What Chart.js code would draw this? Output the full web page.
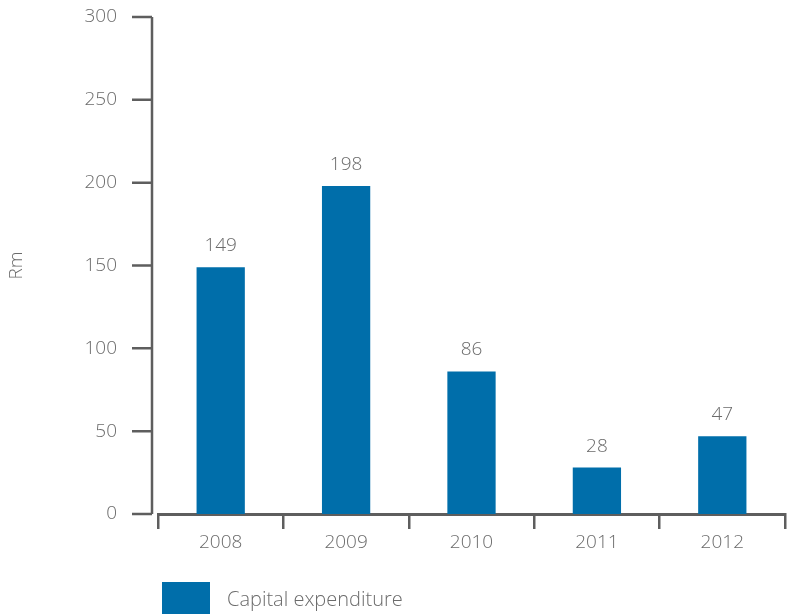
<!DOCTYPE html>
<html>
<head>
<meta charset="utf-8">
<script src="https://cdn.jsdelivr.net/npm/chart.js@4/dist/chart.umd.min.js"></script>
<style>
  html, body { margin: 0; padding: 0; background: #fff; }
  #wrap { position: relative; width: 787px; height: 615px; }
  #chart { display: block; }
  #legend { position: absolute; left: 162px; top: 582px; display: flex; align-items: center;
            font-family: "Open Sans", sans-serif; font-weight: 300; font-size: 20px; color: #6b6b6b; }
  #legend .swatch { width: 48px; height: 32px; margin-right: 17px; }
</style>
</head>
<body>
<div id="wrap">
  <canvas id="chart" width="787" height="615"></canvas>
  <div id="legend"><span class="swatch"></span><span class="label"></span></div>
</div>
<script>
const years = ['2008', '2009', '2010', '2011', '2012'];
const capex = [149, 198, 86, 28, 47];
const yTicks = [0, 50, 100, 150, 200, 250, 300];
const seriesName = 'Capital expenditure';
const axisTitle = 'Rm';

const BAR = '#006eaa';
const AXIS = '#5e5e5e';
const TEXT = '#6b6b6b';
const FONT = { family: '"Open Sans", sans-serif', size: 19, weight: 300 };

// Vertical axis line and its outward tick marks, set slightly left of the plot
const yAxisLine = {
  id: 'yAxisLine',
  afterDraw(chart) {
    const y = chart.scales.y;
    const x = chart.chartArea.left - 6;
    const ctx = chart.ctx;
    ctx.save();
    ctx.strokeStyle = AXIS;
    ctx.lineWidth = 2.5;
    ctx.beginPath();
    ctx.moveTo(x, y.getPixelForValue(yTicks[yTicks.length - 1]));
    ctx.lineTo(x, y.getPixelForValue(yTicks[0]));
    yTicks.forEach(v => {
      const py = y.getPixelForValue(v);
      ctx.moveTo(x - 20, py);
      ctx.lineTo(x, py);
    });
    ctx.stroke();
    ctx.restore();
  }
};

// Value labels above each bar
const valueLabels = {
  id: 'valueLabels',
  afterDatasetsDraw(chart) {
    const ctx = chart.ctx;
    const meta = chart.getDatasetMeta(0);
    ctx.save();
    ctx.fillStyle = TEXT;
    ctx.font = `${FONT.weight} ${FONT.size}px ${FONT.family}`;
    ctx.textAlign = 'center';
    ctx.textBaseline = 'bottom';
    meta.data.forEach((bar, i) => {
      ctx.fillText(String(chart.data.datasets[0].data[i]), bar.x, bar.y - 12);
    });
    ctx.restore();
  }
};

new Chart(document.getElementById('chart'), {
  type: 'bar',
  data: {
    labels: years,
    datasets: [{
      label: seriesName,
      data: capex,
      backgroundColor: BAR,
      borderWidth: 0,
      barPercentage: 0.385,
      categoryPercentage: 1
    }]
  },
  options: {
    responsive: false,
    animation: false,
    events: [],
    layout: { padding: { top: 17, right: 2, bottom: 61, left: 0 } },
    plugins: { legend: { display: false }, tooltip: { enabled: false } },
    scales: {
      x: {
        afterFit(scale) { scale.height = 40; },
        border: { display: true, color: AXIS, width: 3 },
        grid: { display: true, drawOnChartArea: false, drawTicks: true, tickLength: 15,
                color: AXIS, lineWidth: 2.5, offset: true },
        ticks: { color: TEXT, font: FONT, padding: 2 }
      },
      y: {
        min: 0,
        max: 300,
        afterFit(scale) {
          scale.width = 158;
          scale.paddingTop = 12;
          scale.paddingBottom = 12;
        },
        afterBuildTicks(scale) { scale.ticks = yTicks.map(v => ({ value: v })); },
        border: { display: false },
        grid: { display: false, drawTicks: false },
        ticks: { color: TEXT, font: FONT, padding: 41 },
        title: { display: true, text: axisTitle, color: TEXT, font: FONT, padding: { top: 5, bottom: 0 } }
      }
    }
  },
  plugins: [yAxisLine, valueLabels]
});

document.querySelector('#legend .swatch').style.background = BAR;
document.querySelector('#legend .label').textContent = seriesName;
</script>
</body>
</html>
